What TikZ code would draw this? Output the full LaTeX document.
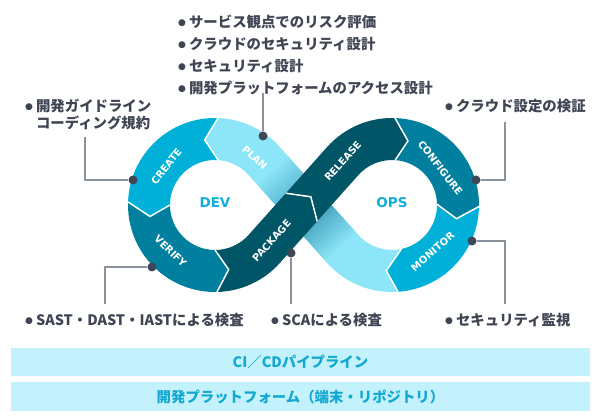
\documentclass[tikz,border=0pt]{standalone}
\usepackage{fontspec}
\setmainfont{Noto Sans CJK JP}
\newfontfamily\dejavu{DejaVu Sans}
\usetikzlibrary{calc}
\definecolor{lightc}{HTML}{8CE6F8}
\definecolor{cyanc}{HTML}{00B0D8}
\definecolor{tealc}{HTML}{007F9E}
\definecolor{darkc}{HTML}{005566}
\definecolor{shlow}{HTML}{48A4C0}
\definecolor{shup}{HTML}{62BED8}
\definecolor{txtc}{HTML}{3F4553}
\definecolor{linec}{HTML}{8A939C}
\definecolor{dotc}{HTML}{3F4757}
\definecolor{barc}{HTML}{C4F2FC}
\definecolor{bartxt}{HTML}{12A8D2}
\definecolor{devc}{HTML}{12AEDA}
\newcommand\bu{{\dejavu\fontsize{9}{9}\selectfont\raisebox{2pt}{●}}\hspace{3pt}}
\begin{document}
\begin{tikzpicture}[x=1pt,y=1pt,
  lbltxt/.style={font=\bfseries\fontsize{14.4}{17.5}\selectfont, text=txtc, inner sep=0pt, anchor=west, align=left},
  segtxt/.style={font=\dejavu\bfseries\fontsize{10}{10}\selectfont, text=white, inner sep=0pt},
  ringtxt/.style={font=\dejavu\bfseries\fontsize{13.5}{13.5}\selectfont, text=devc, inner sep=0pt},
  connline/.style={draw=linec, line width=1.2pt},
  dotmark/.style={circle, fill=dotc, minimum size=9pt, inner sep=0pt},
  barbox/.style={fill=barc, minimum width=579pt, inner sep=0pt, font=\bfseries\fontsize{14.4}{16}\selectfont, text=bartxt},
  chev/.style={draw=white, line width=1.5pt, line join=miter}
]
\useasboundingbox (0,0) rectangle (600,-419);
\coordinate (L) at (215,-205);
\coordinate (R) at (392,-205);
\coordinate (M) at (303.5,-205);
\coordinate (C4) at ($(M)+(228.2:3)$);
\coordinate (A) at ($(C4)+(318.2:21)$);
\coordinate (B) at ($(C4)+(138.2:21)$);
\coordinate (Tip) at ($(C4)+(48.2:14)$);

% light band (bottom right -> PLAN)
\fill[lightc] ($(R)+(-86:87)$) arc[start angle=-86, end angle=-138.2, radius=87]
  -- ($(L)+(41.8:45)$) arc[start angle=41.8, end angle=86, radius=45]
  -- ($(L)+(99:66)$) -- ($(L)+(88:87)$) arc[start angle=88, end angle=41.8, radius=87]
  -- ($(R)+(-138.2:45)$) arc[start angle=-138.2, end angle=-78, radius=45]
  -- ($(R)+(-95:66)$) -- cycle;

% shadow of the light band near the crossing
\begin{scope}[shift={(M)}, rotate=-48.2]
  \foreach \i in {0,...,20}{
    \pgfmathsetmacro\xa{16+2*\i}
    \pgfmathsetmacro\xb{\xa+2.5}
    \pgfmathtruncatemacro\p{100*\i/20}
    \fill[lightc!\p!shlow] (\xa,-20.8) -- (\xb,-20.8) -- (\xb,20.8) -- (\xa,20.8) -- cycle;
  }
  \foreach \i in {0,...,15}{
    \pgfmathsetmacro\xa{-16-2*\i}
    \pgfmathsetmacro\xb{\xa-2.5}
    \pgfmathtruncatemacro\p{100*\i/15}
    \fill[lightc!\p!shup] (\xa,-20.8) -- (\xb,-20.8) -- (\xb,20.8) -- (\xa,20.8) -- cycle;
  }
\end{scope}

% left ring
\fill[cyanc, shift={(L)}] (88:87) arc[start angle=88, end angle=178, radius=87]
  -- (190:66) -- (180:45) arc[start angle=180, end angle=86, radius=45] -- (99:66) -- cycle;
\fill[tealc, shift={(L)}] (178:87) arc[start angle=178, end angle=271.3, radius=87]
  -- (282:66) -- (270:45) arc[start angle=270, end angle=180, radius=45] -- (190:66) -- cycle;
\fill[darkc] ($(L)+(271.3:87)$) arc[start angle=271.3, end angle=318.2, radius=87]
  -- (A) -- (Tip) -- (B) -- ($(L)+(318.2:45)$) arc[start angle=318.2, end angle=270, radius=45]
  -- ($(L)+(282:66)$) -- cycle;
% right ring
\fill[darkc] (A) -- ($(R)+(138.2:45)$) arc[start angle=138.2, end angle=86, radius=45]
  -- ($(R)+(76:66)$) -- ($(R)+(88:87)$) arc[start angle=88, end angle=138.2, radius=87]
  -- (B) -- (Tip) -- cycle;
\fill[tealc, shift={(R)}] (88:87) arc[start angle=88, end angle=-1, radius=87]
  -- (-12:66) -- (1:45) arc[start angle=1, end angle=86, radius=45] -- (76:66) -- cycle;
\fill[cyanc, shift={(R)}] (-1:87) arc[start angle=-1, end angle=-86, radius=87]
  -- (-95:66) -- (-78:45) arc[start angle=-78, end angle=1, radius=45] -- (-12:66) -- cycle;

% white chevron separators
\draw[chev] ($(L)+(88:87)$) -- ($(L)+(99:66)$) -- ($(L)+(86:45)$);
\draw[chev] ($(L)+(178:87)$) -- ($(L)+(190:66)$) -- ($(L)+(180:45)$);
\draw[chev] ($(L)+(271.3:87)$) -- ($(L)+(282:66)$) -- ($(L)+(270:45)$);
\draw[chev] (A) -- (Tip) -- (B);
\draw[chev] ($(R)+(88:87)$) -- ($(R)+(76:66)$) -- ($(R)+(86:45)$);
\draw[chev] ($(R)+(-1:87)$) -- ($(R)+(-12:66)$) -- ($(R)+(1:45)$);
\draw[chev] ($(R)+(-86:87)$) -- ($(R)+(-95:66)$) -- ($(R)+(-78:45)$);

% segment labels
\node[segtxt, rotate=51.6] (tcreate) at ($(L)+(141.6:62)$) {CREATE};
\node[segtxt, rotate=-44] (tverify) at ($(L)+(226:64)$) {VERIFY};
\node[segtxt, rotate=-43] (tplan) at ($(L)+(50:62)$) {PLAN};
\node[segtxt, rotate=48.2] (tpackage) at ($(C4)+(228.2:45)$) {PACKAGE};
\node[segtxt, rotate=48.2] (trelease) at ($(C4)+(48.2:62)$) {RELEASE};
\node[segtxt, rotate=-52.4] (tconfigure) at ($(R)+(37.6:61)$) {CONFIGURE};
\node[segtxt, rotate=41.1] (tmonitor) at ($(R)+(-48.9:62)$) {MONITOR};
\node[ringtxt] (dev) at (215,-203) {DEV};
\node[ringtxt] (ops) at (392,-203) {OPS};

% connector ends
\coordinate (e1) at (85,-137);
\coordinate (e2) at (263,-93);
\coordinate (e3) at (105,-304);
\coordinate (e4) at (291,-304);
\coordinate (e5) at (505,-122);
\coordinate (e6) at (505,-304);
\node[dotmark] (d1) at (133,-180) {};
\node[dotmark] (d2) at (263,-136) {};
\node[dotmark] (d3) at (152,-267) {};
\node[dotmark] (d4) at (291,-253) {};
\node[dotmark] (d5) at (476,-180) {};
\node[dotmark] (d6) at (472,-241) {};
\draw[connline] (d1) -| (e1);
\draw[connline] (d2) -- (e2);
\draw[connline] (d3) -| (e3);
\draw[connline] (d4) -- (e4);
\draw[connline] (d5) -| (e5);
\draw[connline] (d6) -| (e6);

% texts
\node[lbltxt] (t1) at (178,-22) {\bu サービス観点でのリスク評価};
\node[lbltxt] (t2) at (178,-44) {\bu クラウドのセキュリティ設計};
\node[lbltxt] (t3) at (178,-66) {\bu セキュリティ設計};
\node[lbltxt] (t4) at (178,-88) {\bu 開発プラットフォームのアクセス設計};
\node[lbltxt] (t5) at (25,-114.5) {\bu 開発ガイドライン\\\hphantom{\bu}コーディング規約};
\node[lbltxt] (t6) at (445,-106) {\bu クラウド設定の検証};
\node[lbltxt] (t7) at (25,-320) {\bu SAST・DAST・IASTによる検査};
\node[lbltxt] (t8) at (271,-320) {\bu SCAによる検査};
\node[lbltxt] (t9) at (445,-320) {\bu セキュリティ監視};

% bars
\node[barbox, minimum height=28pt] (bar1) at (300.5,-362) {CI／CDパイプライン};
\node[barbox, minimum height=29pt] (bar2) at (300.5,-396.5) {開発プラットフォーム（端末・リポジトリ）};
\end{tikzpicture}
\end{document}
